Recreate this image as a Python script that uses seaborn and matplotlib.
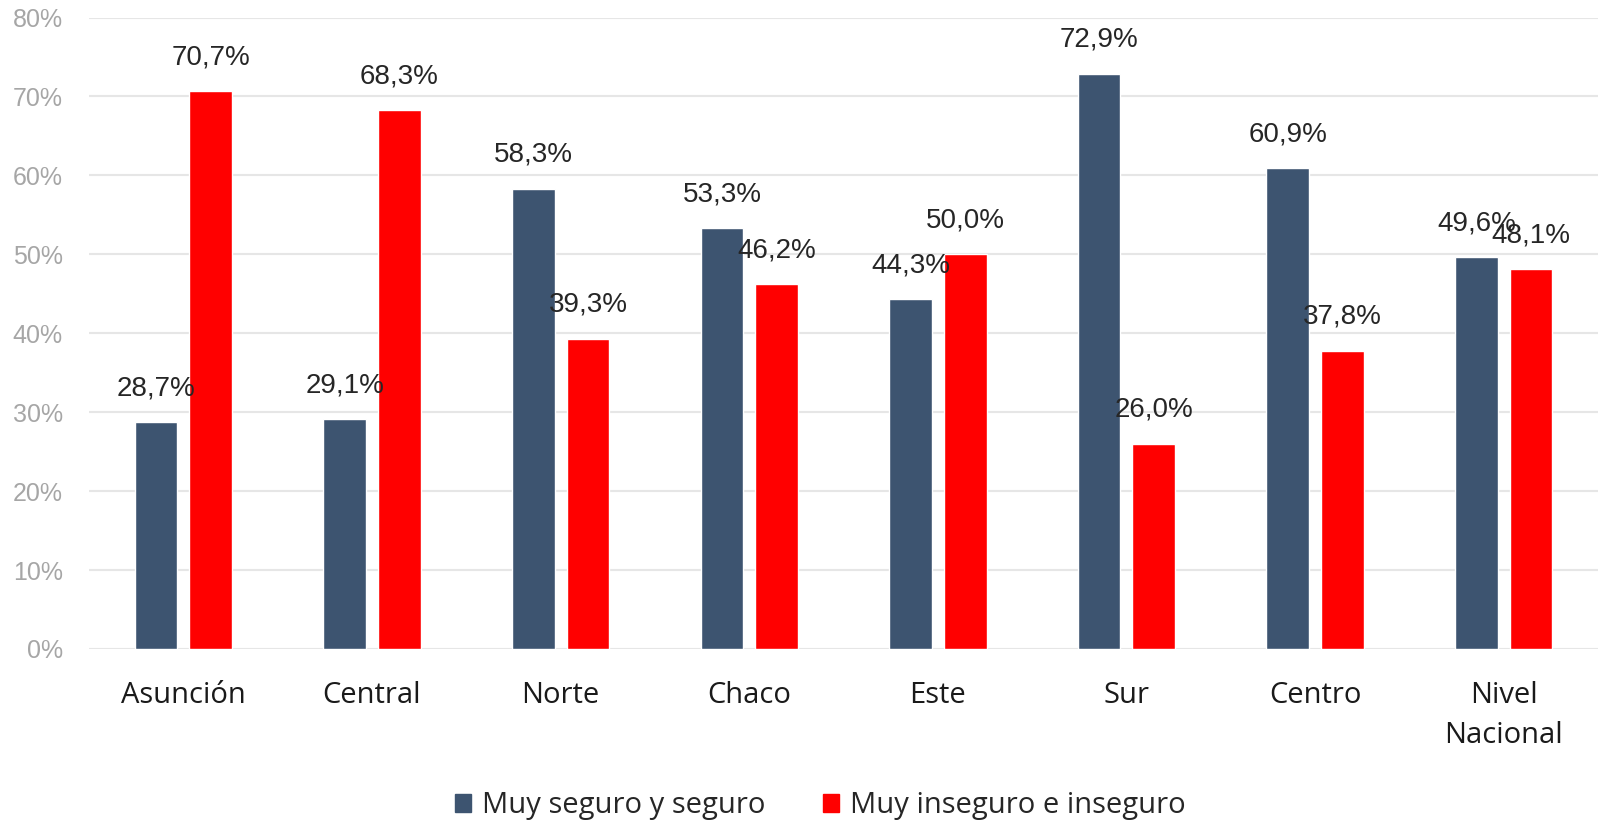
import matplotlib
matplotlib.use("Agg")
import matplotlib.pyplot as plt
import seaborn as sns
import pandas as pd

# chart data
regions = ["Asunción", "Central", "Norte", "Chaco", "Este", "Sur", "Centro", "Nivel\nNacional"]
seguro = [28.7, 29.1, 58.3, 53.3, 44.3, 72.9, 60.9, 49.6]
inseguro = [70.7, 68.3, 39.3, 46.2, 50.0, 26.0, 37.8, 48.1]
series = ["Muy seguro y seguro", "Muy inseguro e inseguro"]
y_ticks = [0, 10, 20, 30, 40, 50, 60, 70, 80]

df = pd.DataFrame({
    "region": regions * 2,
    "serie": [series[0]] * len(regions) + [series[1]] * len(regions),
    "valor": seguro + inseguro,
})

sns.set_style("white")
plt.rcParams["font.family"] = ["Liberation Sans", "DejaVu Sans"]

fig = plt.figure(figsize=(16.02, 8.22), dpi=100)
ax = fig.add_axes([0.0556, 0.2105, 0.9419, 0.7682])

palette = {series[0]: "#3d5470", series[1]: "#ff0000"}
sns.barplot(data=df, x="region", y="valor", hue="serie", palette=palette,
            width=0.58, gap=0.22, saturation=1, ax=ax, legend=False)

for cont in ax.containers:
    ax.bar_label(cont, labels=[f"{v:.1f}%".replace(".", ",") for v in cont.datavalues],
                 padding=15, fontsize=20, color="#262626")

ax.set_ylim(0, 80)
ax.set_xlim(-0.5, len(regions) - 0.5)
ax.set_yticks(y_ticks)
ax.set_yticklabels([f"{t}%" for t in y_ticks], fontsize=18, color="#a6a6a6")
ax.yaxis.grid(True, color="#e6e6e6", linewidth=1.5)
ax.set_axisbelow(True)
ax.tick_params(axis="y", length=0, pad=19)
ax.tick_params(axis="x", length=0, pad=23)
for lbl in ax.get_xticklabels():
    lbl.set_fontfamily(["Open Sans", "DejaVu Sans"])
    lbl.set_fontsize(21)
    lbl.set_color("#1a1a1a")
    lbl.set_linespacing(1.5)
ax.set_xlabel("")
ax.set_ylabel("")
sns.despine(ax=ax, left=True, bottom=True)

handles = [plt.Rectangle((0, 0), 1, 1, color=palette[s]) for s in series]
fig.legend(handles, series, loc="center", bbox_to_anchor=(0.512, 0.02), ncol=2,
           frameon=False, handlelength=0.55, handleheight=0.55, handletextpad=0.35,
           columnspacing=2.0, prop={"family": ["Open Sans", "DejaVu Sans"], "size": 21})

fig.savefig("out.png", dpi=100)
